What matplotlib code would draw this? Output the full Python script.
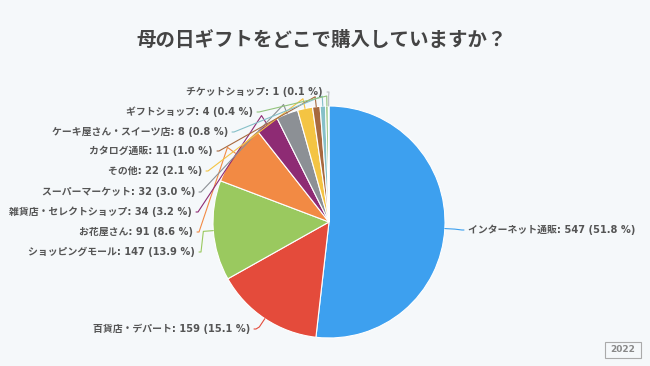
import numpy as np
import matplotlib.pyplot as plt
from matplotlib.patches import Rectangle

plt.rcParams['font.family'] = ['Noto Sans CJK JP', 'DejaVu Sans']

# ====== DATA ======
TITLE = "母の日ギフトをどこで購入していますか？"
categories = [
    "インターネット通販", "百貨店・デパート", "ショッピングモール", "お花屋さん",
    "雑貨店・セレクトショップ", "スーパーマーケット", "その他", "カタログ通販",
    "ケーキ屋さん・スイーツ店", "ギフトショップ", "チケットショップ",
]
counts = [547, 159, 147, 91, 34, 32, 22, 11, 8, 4, 1]
percents = [51.8, 15.1, 13.9, 8.6, 3.2, 3.0, 2.1, 1.0, 0.8, 0.4, 0.1]

colors = ["#3da0ef", "#e44b3b", "#9ac95f", "#f28a44", "#8e2b74", "#8c9095",
          "#f4c443", "#a7693f", "#86c0c8", "#93c47d", "#b8bcc0"]

# label layout (pixel coords: text anchor x, y, side)
label_pos = [
    (468, 230, "left"), (250, 329, "right"), (195, 252, "right"),
    (193, 232, "right"), (192, 212, "right"), (195, 192, "right"),
    (202, 171, "right"), (213, 151, "right"), (228, 132, "right"),
    (253, 112, "right"), (323, 92, "right"),
]

W, H = 650, 366
CX, CY, R = 329, 222, 116
BG = "#f5f8fa"
LABEL_FONT = ['DejaVu Sans', 'Noto Sans CJK JP']


def Y(y):
    return H - y


def main():
    fig = plt.figure(figsize=(6.5, 3.66), dpi=100)
    fig.patch.set_facecolor(BG)
    ax = fig.add_axes([0, 0, 1, 1])
    ax.set_facecolor(BG)

    wedges, _ = ax.pie(
        counts, colors=colors, startangle=90, counterclock=False,
        center=(CX, Y(CY)), radius=R, frame=True,
        wedgeprops=dict(edgecolor="white", linewidth=0.8),
    )
    ax.set_xlim(0, W)
    ax.set_ylim(0, H)
    ax.set_aspect("equal")
    ax.axis("off")

    for w, name, n, p, (lx, ly, side), c in zip(wedges, categories, counts,
                                                percents, label_pos, colors):
        mid = np.deg2rad((w.theta1 + w.theta2) / 2)
        ex, ey = CX + R * np.cos(mid), Y(CY) + R * np.sin(mid)
        bx, by = CX + (R + 10) * np.cos(mid), Y(CY) + (R + 10) * np.sin(mid)
        if side == "left":
            ax_, ha = lx - 4, "left"
            pts = [(ex, ey), (bx, by), (ax_ - 2, Y(ly)), (ax_, Y(ly))]
        else:
            ax_, ha = lx + 4, "right"
            pts = [(ax_, Y(ly)), (ax_ + 2, Y(ly)), (bx, by), (ex, ey)]
        xs, ys = zip(*pts)
        ax.plot(xs, ys, color=c, lw=0.8, solid_capstyle="round")
        ax.text(lx, Y(ly), f"{name}: {n} ({p:.1f} %)", ha=ha, va="center",
                fontsize=7.1, fontweight="bold", color="#555555",
                family=LABEL_FONT)

    ax.text(322, Y(40), TITLE, ha="center", va="center", fontsize=14,
            fontweight="bold", color="#444444")

    ax.add_patch(Rectangle((605, Y(358)), 36, 16, facecolor="none",
                           edgecolor="#aaaaaa", lw=0.8))
    ax.text(623, Y(350), "2022", ha="center", va="center", fontsize=6.5,
            color="#888888", fontweight="bold", family=LABEL_FONT)

    fig.savefig("out.png", dpi=100, facecolor=BG)
    plt.close(fig)


if __name__ == "__main__":
    main()
